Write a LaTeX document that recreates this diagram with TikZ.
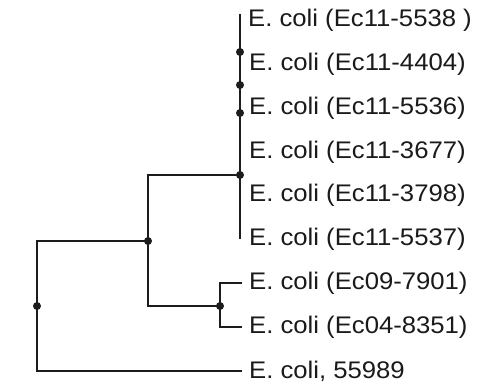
\documentclass[tikz,border=0pt]{standalone}
\usepackage{fontspec}
\setmainfont[FakeStretch=1.07]{Liberation Sans}
\usepackage{tikz}
\usetikzlibrary{calc,positioning}
\definecolor{branchc}{HTML}{1C1C1C}
\definecolor{labelc}{HTML}{1A1A1A}
\tikzset{
  br/.style={line width=2.6pt,branchc},
  nd/.style={circle,fill=branchc,inner sep=0pt,minimum size=8pt},
  leaf/.style={inner sep=0pt,text=labelc,font=\fontsize{24}{28}\selectfont}
}

\begin{document}
\begin{tikzpicture}[x=1pt,y=-1pt]
\useasboundingbox[fill=white] (0,0) rectangle (477,389);
% inner nodes
\node[nd] (root) at (37,306) {};
\node[nd] (n1) at (148,241) {};
\node[nd] (n2) at (240,175) {};
\node[nd] (n3) at (220,306) {};
\node[nd] (s1) at (240,52) {};
\node[nd] (s2) at (240,85) {};
\node[nd] (s3) at (240,113) {};
% leaf tips
\coordinate (top) at (240,14);
\coordinate (t1) at (240,20);
\coordinate (t2) at (240,64);
\coordinate (t3) at (240,108);
\coordinate (t4) at (240,152);
\coordinate (t5) at (240,195);
\coordinate (t6) at (240,239);
\coordinate (t7) at (242,283);
\coordinate (t8) at (242,327);
\coordinate (t9) at (242,371);
% labels
\node[leaf,right=8pt of t1] (l1) {E. coli (Ec11-5538 )};
\node[leaf,right=9pt of t2] (l2) {E. coli (Ec11-4404)};
\node[leaf,right=9pt of t3] (l3) {E. coli (Ec11-5536)};
\node[leaf,right=9pt of t4] (l4) {E. coli (Ec11-3677)};
\node[leaf,right=9pt of t5] (l5) {E. coli (Ec11-3798)};
\node[leaf,right=9pt of t6] (l6) {E. coli (Ec11-5537)};
\node[leaf,right=7pt of t7] (l7) {E. coli (Ec09-7901)};
\node[leaf,right=7pt of t8] (l8) {E. coli (Ec04-8351)};
\node[leaf,right=7pt of t9] (l9) {E. coli, 55989};
% branches
\draw[br] (top) -- (t6);
\draw[br] (root.center) |- (n1.center);
\draw[br] (root.center) |- (t9);
\draw[br] (n1.center) |- (n2.center);
\draw[br] (n1.center) |- (n3.center);
\draw[br] (n3.center) |- (t7);
\draw[br] (n3.center) |- (t8);
\end{tikzpicture}
\end{document}
